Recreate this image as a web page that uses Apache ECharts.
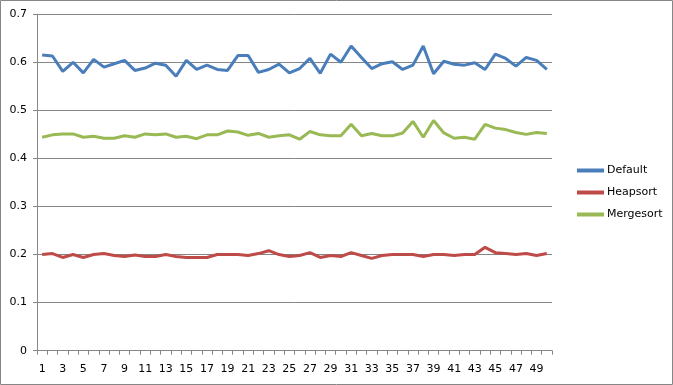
<!DOCTYPE html>
<html><head><meta charset="utf-8">
<script src="https://cdn.jsdelivr.net/npm/echarts@6/dist/echarts.min.js"></script>
<style>html,body{margin:0;padding:0;background:#fff}#c{width:673px;height:385px}</style>
</head><body><div id="c"></div>
<script>
const categories = Array.from({length: 50}, (_, i) => String(i + 1));
const defaultVals = [0.615,0.613,0.581,0.600,0.578,0.606,0.590,0.597,0.604,0.583,0.588,0.598,0.594,0.571,0.604,0.585,0.594,0.585,0.583,0.614,0.614,0.579,0.585,0.596,0.578,0.587,0.608,0.577,0.617,0.600,0.634,0.610,0.587,0.597,0.601,0.585,0.594,0.634,0.576,0.602,0.596,0.594,0.599,0.585,0.617,0.608,0.592,0.610,0.604,0.585];
const heapsortVals = [0.200,0.202,0.194,0.200,0.194,0.200,0.202,0.198,0.196,0.199,0.196,0.196,0.200,0.196,0.194,0.194,0.194,0.200,0.200,0.200,0.198,0.202,0.208,0.200,0.196,0.198,0.204,0.194,0.198,0.196,0.204,0.198,0.192,0.198,0.200,0.200,0.200,0.196,0.200,0.200,0.198,0.200,0.200,0.215,0.204,0.202,0.200,0.202,0.198,0.202];
const mergesortVals = [0.444,0.449,0.451,0.451,0.444,0.446,0.442,0.442,0.447,0.444,0.451,0.449,0.451,0.444,0.446,0.441,0.449,0.449,0.457,0.455,0.448,0.452,0.444,0.447,0.449,0.440,0.456,0.449,0.447,0.447,0.471,0.447,0.452,0.447,0.447,0.453,0.477,0.444,0.479,0.453,0.442,0.444,0.440,0.471,0.463,0.460,0.454,0.450,0.454,0.452];
const seriesNames = ['Default', 'Heapsort', 'Mergesort'];
const colors = ['#4a7ebb', '#be4b48', '#98b954'];

const chart = echarts.init(document.getElementById('c'), null, {renderer: 'canvas'});
const font = 'DejaVu Sans';
chart.setOption({
  animation: false,
  color: colors,
  textStyle: {fontFamily: font},
  graphic: [{type: 'rect', shape: {x: 0.5, y: 0.5, width: 672, height: 384}, style: {fill: 'none', stroke: '#868686', lineWidth: 1}, silent: true}],
  grid: {left: 37, right: 121, top: 14.2, bottom: 34.3},
  legend: {
    orient: 'vertical', left: 572, top: 160, itemGap: 11,
    icon: 'rect', itemWidth: 27, itemHeight: 4,
    textStyle: {fontFamily: font, fontSize: 11, color: '#000', padding: [0, 0, 0, -2]},
    data: seriesNames
  },
  xAxis: {
    type: 'category', data: categories, boundaryGap: true,
    axisLine: {lineStyle: {color: '#868686'}},
    axisTick: {show: true, length: 4, alignWithLabel: false, interval: 0, lineStyle: {color: '#868686'}},
    axisLabel: {interval: 1, color: '#000', fontSize: 11, fontFamily: font, margin: 13}
  },
  yAxis: {
    type: 'value', min: 0, max: 0.7, interval: 0.1,
    axisLine: {show: true, lineStyle: {color: '#868686'}},
    axisTick: {show: true, length: 4, lineStyle: {color: '#868686'}},
    splitLine: {lineStyle: {color: '#868686'}},
    axisLabel: {color: '#000', fontSize: 11, fontFamily: font, margin: 10, formatter: v => (Math.round(v * 10) / 10).toString()}
  },
  series: [
    {name: seriesNames[0], type: 'line', data: defaultVals, symbol: 'none', lineStyle: {width: 3}},
    {name: seriesNames[1], type: 'line', data: heapsortVals, symbol: 'none', lineStyle: {width: 3}},
    {name: seriesNames[2], type: 'line', data: mergesortVals, symbol: 'none', lineStyle: {width: 3}}
  ]
});
</script></body></html>
